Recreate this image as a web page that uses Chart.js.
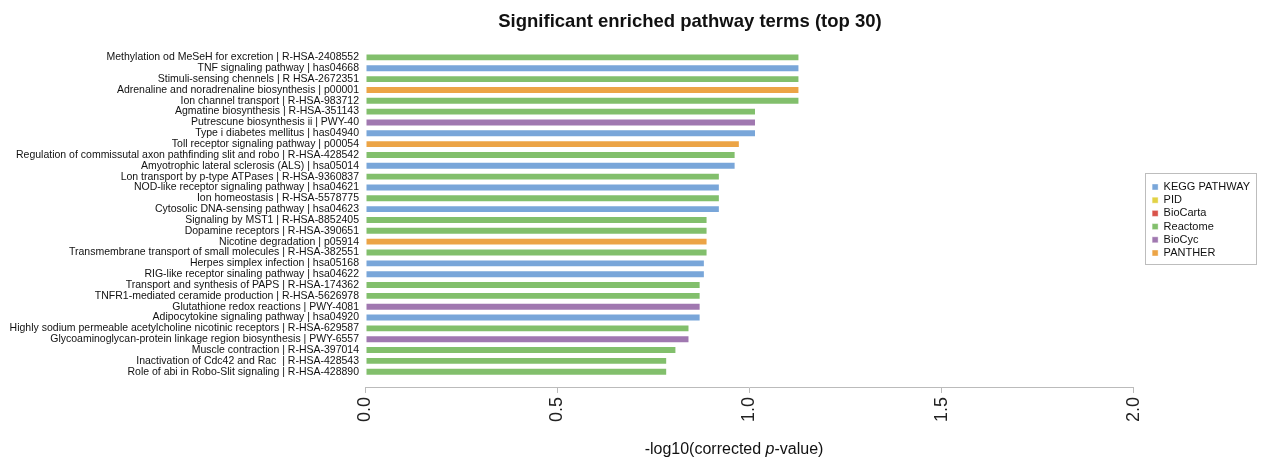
<!DOCTYPE html>
<html>
<head>
<meta charset="utf-8">
<script src="https://cdn.jsdelivr.net/npm/chart.js@4/dist/chart.umd.min.js"></script>
<style>
    html, body { margin: 0; padding: 0; background: #fff; }
    #wrap { width: 1262px; height: 460px; }
</style>
</head>
<body>
<div id="wrap"><canvas id="pathway-chart" width="1262" height="460"></canvas></div>
<script>
/**
 * data (top row first)
 */
const pathwayLabels = [
    "Methylation od MeSeH for excretion | R-HSA-2408552",
    "TNF signaling pathway | has04668",
    "Stimuli-sensing chennels | R HSA-2672351",
    "Adrenaline and noradrenaline biosynthesis | p00001",
    "Ion channel transport | R-HSA-983712",
    "Agmatine biosynthesis | R-HSA-351143",
    "Putrescune biosynthesis ii | PWY-40",
    "Type i diabetes mellitus | has04940",
    "Toll receptor signaling pathway | p00054",
    "Regulation of commissutal axon pathfinding slit and robo | R-HSA-428542",
    "Amyotrophic lateral sclerosis (ALS) | hsa05014",
    "Lon transport by p-type ATPases | R-HSA-9360837",
    "NOD-like receptor signaling pathway | hsa04621",
    "Ion homeostasis | R-HSA-5578775",
    "Cytosolic DNA-sensing pathway | hsa04623",
    "Signaling by MST1 | R-HSA-8852405",
    "Dopamine receptors | R-HSA-390651",
    "Nicotine degradation | p05914",
    "Transmembrane transport of small molecules | R-HSA-382551",
    "Herpes simplex infection | hsa05168",
    "RIG-like receptor sinaling pathway | hsa04622",
    "Transport and synthesis of PAPS | R-HSA-174362",
    "TNFR1-mediated ceramide production | R-HSA-5626978",
    "Glutathione redox reactions | PWY-4081",
    "Adipocytokine signaling pathway | hsa04920",
    "Highly sodium permeable acetylcholine nicotinic receptors | R-HSA-629587",
    "Glycoaminoglycan-protein linkage region biosynthesis | PWY-6557",
    "Muscle contraction | R-HSA-397014",
    "Inactivation of Cdc42 and Rac  | R-HSA-428543",
    "Role of abi in Robo-Slit signaling | R-HSA-428890"
];

const pathwayScores = [
    1.130, 1.130, 1.130, 1.130, 1.130,
    1.017, 1.017, 1.017, 0.975, 0.964,
    0.964, 0.923, 0.923, 0.923, 0.923,
    0.891, 0.891, 0.891, 0.891, 0.884,
    0.884, 0.873, 0.873, 0.873, 0.873,
    0.844, 0.844, 0.810, 0.786, 0.786
];

const pathwaySources = [
    "Reactome", "KEGG PATHWAY", "Reactome", "PANTHER", "Reactome",
    "Reactome", "BioCyc", "KEGG PATHWAY", "PANTHER", "Reactome",
    "KEGG PATHWAY", "Reactome", "KEGG PATHWAY", "Reactome", "KEGG PATHWAY",
    "Reactome", "Reactome", "PANTHER", "Reactome", "KEGG PATHWAY",
    "KEGG PATHWAY", "Reactome", "Reactome", "BioCyc", "KEGG PATHWAY",
    "Reactome", "BioCyc", "Reactome", "Reactome", "Reactome"
];

const sourceNames = ["KEGG PATHWAY", "PID", "BioCarta", "Reactome", "BioCyc", "PANTHER"];
const sourceColors = ["#79a6d9", "#e2d245", "#d9534a", "#82bf6c", "#a078b0", "#eca446"];

const xTicks = [0, 0.5, 1.0, 1.5, 2.0];

/**
 * helper plugins: title, axis title, legend frame
 */
const FONT = "'Liberation Sans', Arial, sans-serif";

const titlePlugin = {
    id: "customTitle",
    afterDraw(chart) {
        const ctx = chart.ctx;
        ctx.save();
        ctx.fillStyle = "#111";
        ctx.font = "bold 18.5px " + FONT;
        ctx.textAlign = "center";
        ctx.textBaseline = "middle";
        ctx.fillText("Significant enriched pathway terms (top 30)", 690, 22);
        ctx.restore();
    }
};

// x axis title with italic p
const axisTitlePlugin = {
    id: "axisTitle",
    afterDraw(chart) {
        const ctx = chart.ctx;
        const parts = [
            { text: "-log10(corrected ", font: "16px " + FONT },
            { text: "p", font: "italic 16px " + FONT },
            { text: "-value)", font: "16px " + FONT }
        ];
        ctx.save();
        ctx.fillStyle = "#111";
        ctx.textBaseline = "middle";
        let total = 0;
        parts.forEach(p => { ctx.font = p.font; p.w = ctx.measureText(p.text).width; total += p.w; });
        let x = 734 - total / 2;
        parts.forEach(p => {
            ctx.font = p.font;
            ctx.fillText(p.text, x, 450);
            x += p.w;
        });
        ctx.restore();
    }
};

const legendFramePlugin = {
    id: "legendFrame",
    afterDraw(chart) {
        const boxes = chart.legend && chart.legend.legendHitBoxes;
        if (!boxes || !boxes.length) return;
        const top = Math.min(...boxes.map(b => b.top));
        const bottom = Math.max(...boxes.map(b => b.top + b.height));
        const left = Math.min(...boxes.map(b => b.left));
        const ctx = chart.ctx;
        ctx.save();
        ctx.strokeStyle = "#bdbdbd";
        ctx.lineWidth = 1;
        ctx.strokeRect(Math.round(left - 7) + 0.5, Math.round(top - 8) + 0.5, 111, Math.round(bottom - top + 14));
        ctx.restore();
    }
};

// one dataset per source so the legend lists every source
function buildDatasets() {
    return sourceNames.map((name, i) => ({
        label: name,
        data: pathwayScores.map((v, k) => pathwaySources[k] === name ? v : null),
        backgroundColor: sourceColors[i],
        borderColor: "rgba(255,255,255,0.4)",
        borderWidth: 1,
        borderSkipped: false,
        grouped: false,
        barPercentage: 0.73,
        categoryPercentage: 1.0
    }));
}

function initPathwayChart() {
    const ctx = document.getElementById("pathway-chart").getContext("2d");

    const chart = new Chart(ctx, {
        type: "bar",
        data: {
            // trailing empty row leaves the gap above the x axis
            labels: pathwayLabels.concat([""]),
            datasets: buildDatasets()
        },
        options: {
            indexAxis: "y",
            responsive: false,
            animation: false,
            layout: {
                padding: { top: 52, left: 10, right: 2, bottom: 34 }
            },
            plugins: {
                legend: {
                    position: "right",
                    fullSize: false,
                    labels: {
                        boxWidth: 6,
                        boxHeight: 6,
                        padding: 2.2,
                        color: "#111",
                        font: { family: FONT, size: 11 }
                    }
                },
                tooltip: { enabled: false }
            },
            scales: {
                x: {
                    type: "linear",
                    min: 0,
                    max: 2,
                    afterBuildTicks: scale => {
                        scale.ticks = xTicks.map(v => ({ value: v }));
                    },
                    ticks: {
                        callback: v => v.toFixed(1),
                        color: "#222",
                        maxRotation: 90,
                        minRotation: 90,
                        padding: 4,
                        font: { family: FONT, size: 18 }
                    },
                    grid: {
                        drawOnChartArea: false,
                        drawTicks: true,
                        tickLength: 5,
                        color: "#bbb"
                    },
                    border: { display: true, color: "#bbb" }
                },
                y: {
                    type: "category",
                    offset: true,
                    afterFit: scale => { scale.width = 355; },
                    ticks: {
                        color: "#111",
                        padding: 6,
                        autoSkip: false,
                        font: { family: FONT, size: 10.5 }
                    },
                    grid: { display: false, drawTicks: false },
                    border: { display: false }
                },
                // spacer between plot and legend
                gap: {
                    type: "linear",
                    position: "right",
                    display: true,
                    ticks: { display: false },
                    grid: { display: false, drawTicks: false },
                    border: { display: false },
                    afterFit: scale => { scale.width = 16; }
                }
            }
        },
        plugins: [titlePlugin, axisTitlePlugin, legendFramePlugin]
    });

    return chart;
}

initPathwayChart();
</script>
</body>
</html>
